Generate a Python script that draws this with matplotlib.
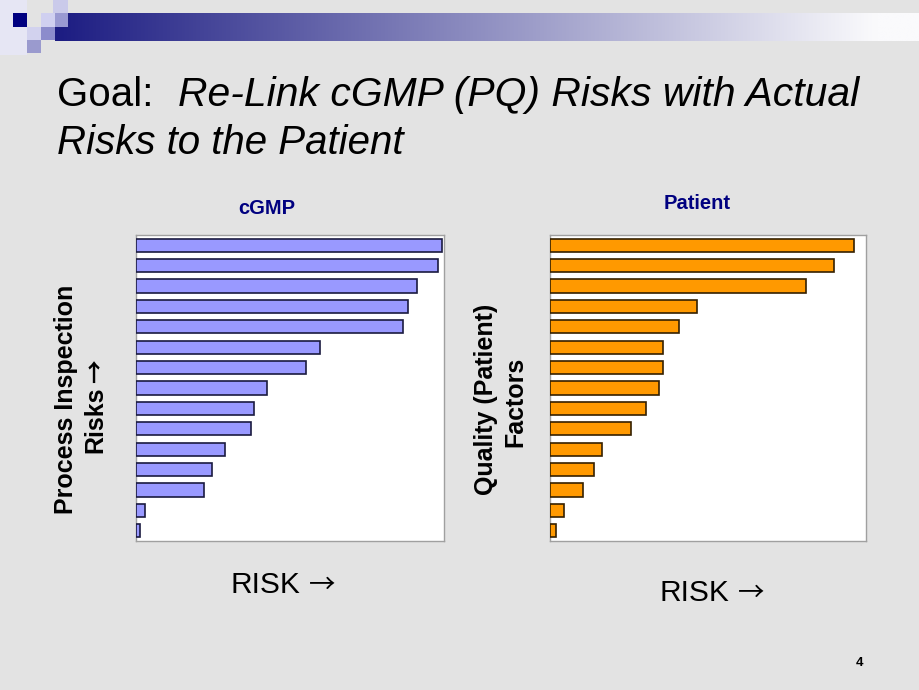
import numpy as np
import matplotlib
matplotlib.use("Agg")
import matplotlib.pyplot as plt
from matplotlib.patches import Rectangle

# ---- data ----
cgmp_risks = [99.3, 98.0, 91.1, 88.3, 86.7, 59.7, 55.2, 42.5, 38.3, 37.3, 28.9, 24.7, 22.1, 2.9, 1.3]
patient_risks = [96.1, 89.9, 81.0, 46.5, 40.8, 35.9, 35.9, 34.4, 30.5, 25.6, 16.6, 13.8, 10.4, 4.5, 1.8]
left_title = "cGMP"
right_title = "Patient"
left_ylabel = ["Process Inspection", "Risks"]
right_ylabel = ["Quality (Patient)", "Factors"]
xlabel_text = "RISK"
ARROW = "\u2192"

W, H = 920, 690
FONT = ['Liberation Sans', 'DejaVu Sans']
ARROW_FONT = ['Noto Sans CJK SC', 'DejaVu Sans']
plt.rcParams['font.family'] = FONT

fig = plt.figure(figsize=(W / 100, H / 100), dpi=100)
fig.patch.set_facecolor('#E3E3E3')


def fx(x):
    return x / W


def fy(y):
    return 1 - y / H


def rect(x0, y0, x1, y1, color):
    fig.add_artist(Rectangle((fx(x0), fy(y1)), fx(x1) - fx(x0), fy(y0) - fy(y1),
                             transform=fig.transFigure, facecolor=color,
                             edgecolor='none', zorder=1))


# ---- decoration (top left) ----
rect(0, 0, 27, 55, '#E6E6F4')
rect(53, 0, 68, 13, '#CACAEA')
gax = fig.add_axes([fx(55), fy(41), fx(920) - fx(55), (41 - 13) / H])
gax.set_axis_off()
n = 400
t = np.clip(np.linspace(0, 1, n) / 0.95, 0, 1)
c0 = np.array([0x1C, 0x1C, 0x82]) / 255
c1 = np.array([0xFA, 0xFA, 0xFC]) / 255
grad = (c0[None, :] * (1 - t[:, None]) + c1[None, :] * t[:, None])[None, :, :]
gax.imshow(grad, aspect='auto', extent=[0, 1, 0, 1])
rect(13, 13, 27, 27, '#000080')
rect(27, 27, 41, 40, '#D2D2EE')
rect(27, 40, 41, 53, '#9A9ACE')
rect(41, 13, 55, 27, '#D0D0F0')
rect(41, 27, 55, 40, '#8C8CCC')
rect(55, 13, 68, 27, '#9A9AD2')

# ---- title ----
fig.text(fx(57), fy(106), "Goal:", fontsize=29, color='black', va='baseline', ha='left')
fig.text(fx(178), fy(106), "Re-Link cGMP (PQ) Risks with Actual", fontsize=29.4,
         style='italic', color='black', va='baseline', ha='left')
fig.text(fx(57), fy(154), "Risks to the Patient", fontsize=29,
         style='italic', color='black', va='baseline', ha='left')


def make_panel(left, right, values, face, edge):
    ax = fig.add_axes([fx(left), fy(541), fx(right) - fx(left), (541 - 235) / H])
    ax.set_facecolor('white')
    pos = np.arange(len(values))
    ax.barh(pos, values, height=0.64, color=face, edgecolor=edge, linewidth=1.2, zorder=3)
    ax.set_xlim(0, 100)
    ax.set_ylim(len(values) - 0.5, -0.5)
    ax.set_xticks([])
    ax.set_yticks([])
    for s in ax.spines.values():
        s.set_color('#A0A0A0')
        s.set_linewidth(1.0)
    return ax


make_panel(136, 444, cgmp_risks, '#9999FF', '#1A1A40')
make_panel(550, 866, patient_risks, '#FF9900', '#352000')

# panel titles
fig.text(fx(267), fy(214), left_title, fontsize=14.5, fontweight='bold', color='#000080',
         ha='center', va='baseline')
fig.text(fx(697), fy(209), right_title, fontsize=14.5, fontweight='bold', color='#000080',
         ha='center', va='baseline')

# y labels
fig.text(fx(66), fy(399), left_ylabel[0], fontsize=18, fontweight='bold', rotation=90,
         ha='center', va='center', color='black')
fig.text(fx(95), fy(420), left_ylabel[1], fontsize=18, fontweight='bold', rotation=90,
         ha='center', va='center', color='black')
fig.text(fx(96), fy(371), ARROW, fontsize=17, fontweight='bold', rotation=90,
         ha='center', va='center', color='black', family=ARROW_FONT)
fig.text(fx(486), fy(399), right_ylabel[0], fontsize=18, fontweight='bold', rotation=90,
         ha='center', va='center', color='black')
fig.text(fx(515), fy(402), right_ylabel[1], fontsize=18, fontweight='bold', rotation=90,
         ha='center', va='center', color='black')

# x labels
for x0, base in [(231, 593), (660, 601)]:
    fig.text(fx(x0), fy(base), xlabel_text, fontsize=21.5, ha='left', va='baseline', color='black')
    fig.text(fx(x0 + 78), fy(base), ARROW, fontsize=19, ha='left', va='baseline',
             color='black', family=ARROW_FONT)

# page number
fig.text(fx(859.5), fy(666), "4", fontsize=9.5, fontweight='bold', ha='center', va='baseline',
         color='black')

fig.savefig('out.png', dpi=100, facecolor=fig.get_facecolor())
